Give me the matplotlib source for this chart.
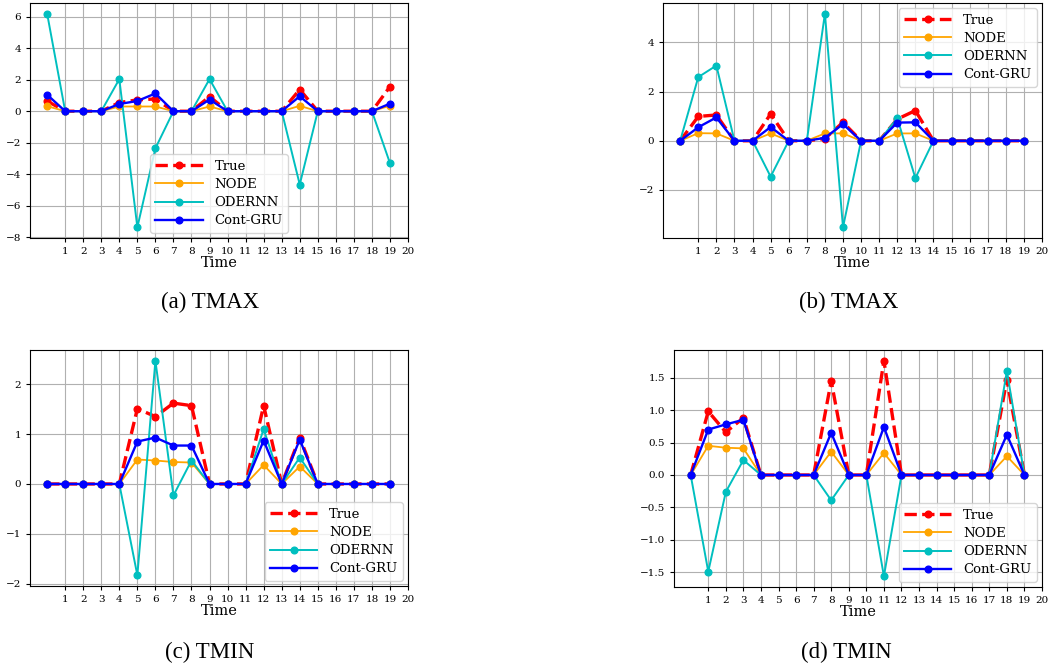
import numpy as np
import matplotlib
matplotlib.use('Agg')
import matplotlib.pyplot as plt

# time steps and tick labels
time = np.arange(20)
xticks = list(range(1, 21))
names = ['True', 'NODE', 'ODERNN', 'Cont-GRU']
captions = ['(a) TMAX', '(b) TMAX', '(c) TMIN', '(d) TMIN']

# (a) TMAX
a_true = [0.65, 0, 0, 0, 0.55, 0.72, 0.78, 0, 0, 0.93, 0, 0, 0, 0, 1.38, 0, 0, 0, 0, 1.56]
a_node = [0.32, 0, 0, 0, 0.3, 0.3, 0.3, 0, 0, 0.3, 0, 0, 0, 0, 0.34, 0, 0, 0, 0, 0.35]
a_odernn = [6.2, 0, 0, 0, 2.04, -7.38, -2.36, 0, 0, 2.04, 0, 0, 0, 0, -4.66, 0, 0, 0, 0, -3.3]
a_gru = [1.05, 0, 0, 0, 0.46, 0.65, 1.13, 0, 0, 0.74, 0, 0, 0, 0, 0.95, 0, 0, 0, 0, 0.48]

# (b) TMAX
b_true = [0, 0.99, 1.05, 0, 0, 1.09, 0, 0, 0.09, 0.75, 0, 0, 0.88, 1.23, 0, 0, 0, 0, 0, 0]
b_node = [0, 0.31, 0.3, 0, 0, 0.3, 0, 0, 0.3, 0.3, 0, 0, 0.3, 0.3, 0, 0, 0, 0, 0, 0]
b_odernn = [0, 2.59, 3.06, 0, 0, -1.46, 0, 0, 5.17, -3.52, 0, 0, 0.92, -1.52, 0, 0, 0, 0, 0, 0]
b_gru = [0, 0.55, 0.95, 0, 0, 0.56, 0, 0, 0.12, 0.68, 0, 0, 0.74, 0.75, 0, 0, 0, 0, 0, 0]

# (c) TMIN
c_true = [0, 0, 0, 0, 0, 1.51, 1.35, 1.62, 1.57, 0, 0, 0, 1.57, 0, 0.93, 0, 0, 0, 0, 0]
c_node = [0, 0, 0, 0, 0, 0.49, 0.47, 0.44, 0.43, 0, 0, 0, 0.38, 0, 0.35, 0, 0, 0, 0, 0]
c_odernn = [0, 0, 0, 0, 0, -1.83, 2.47, -0.23, 0.47, 0, 0, 0, 1.1, 0, 0.53, 0, 0, 0, 0, 0]
c_gru = [0, 0, 0, 0, 0, 0.85, 0.93, 0.77, 0.77, 0, 0, 0, 0.87, 0, 0.89, 0, 0, 0, 0, 0]

# (d) TMIN
d_true = [0, 0.98, 0.66, 0.88, 0, 0, 0, 0, 1.45, 0, 0, 1.76, 0, 0, 0, 0, 0, 0, 1.47, 0]
d_node = [0, 0.45, 0.42, 0.41, 0, 0, 0, 0, 0.36, 0, 0, 0.34, 0, 0, 0, 0, 0, 0, 0.29, 0]
d_odernn = [0, -1.49, -0.26, 0.23, 0, 0, 0, 0, -0.39, 0, 0, -1.56, 0, 0, 0, 0, 0, 0, 1.6, 0]
d_gru = [0, 0.70, 0.78, 0.85, 0, 0, 0, 0, 0.65, 0, 0, 0.74, 0, 0, 0, 0, 0, 0, 0.62, 0]

panels = [
    (a_true, a_node, a_odernn, a_gru),
    (b_true, b_node, b_odernn, b_gru),
    (c_true, c_node, c_odernn, c_gru),
    (d_true, d_node, d_odernn, d_gru),
]

plt.rcParams['font.family'] = 'DejaVu Serif'

W, H = 1053, 666
fig = plt.figure(figsize=(W / 100, H / 100), dpi=100)

# axes boxes in pixels: left, top, right, bottom
boxes = [(30, 3, 408, 238), (663, 3, 1042, 238), (30, 350, 408, 586), (674, 350, 1042, 587)]
legend_locs = ['lower center', 'upper right', 'lower right', 'lower right']
caption_pos = [(210, 302), (849, 302), (210, 652), (846, 652)]

for i, (series, box) in enumerate(zip(panels, boxes)):
    l, t, r, b = box
    ax = fig.add_axes([l / W, 1 - b / H, (r - l) / W, (b - t) / H])
    ax.plot(time, series[0], 'r--o', lw=2.4, ms=4.8, label=names[0], zorder=3)
    ax.plot(time, series[1], color='orange', marker='o', lw=1.3, ms=4.8, label=names[1], zorder=4)
    ax.plot(time, series[2], color='c', marker='o', lw=1.4, ms=4.8, label=names[2], zorder=5)
    ax.plot(time, series[3], color='b', marker='o', lw=1.7, ms=4.8, label=names[3], zorder=6)
    ax.set_xticks(xticks)
    ax.tick_params(labelsize=7.5, length=3)
    ax.set_xlabel('Time', fontsize=10.5, labelpad=0)
    ax.grid(True, color='#b0b0b0', lw=0.8)
    ax.legend(loc=legend_locs[i], fontsize=9.5, handlelength=3.6, borderpad=0.4,
              labelspacing=0.4, borderaxespad=0.4, handletextpad=0.9)
    fig.text(caption_pos[i][0] / W, 1 - caption_pos[i][1] / H, captions[i],
             family='Liberation Serif', fontsize=16.5, ha='center', va='center')

fig.savefig('out.png', dpi=100)
